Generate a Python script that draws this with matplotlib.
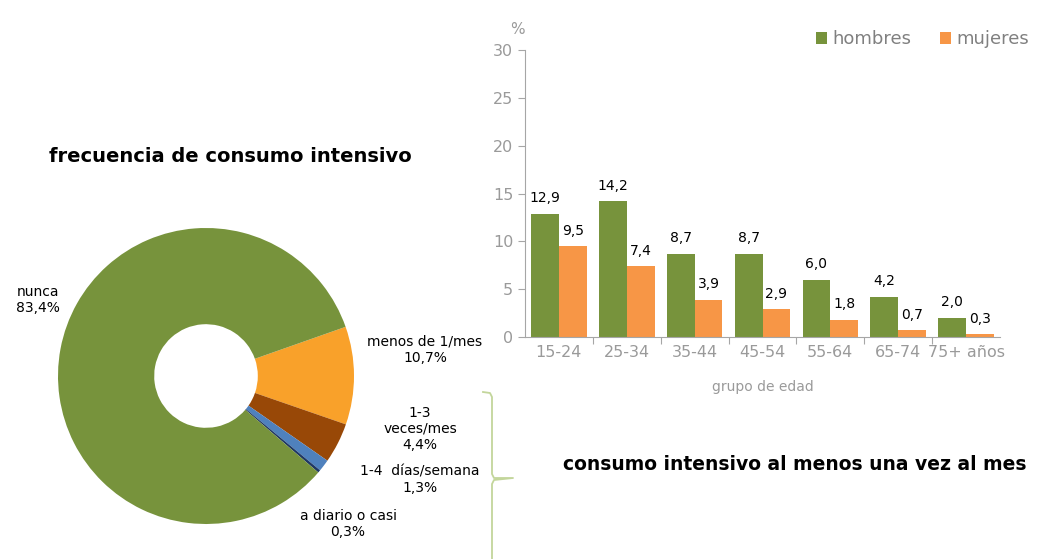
import matplotlib.pyplot as plt
import numpy as np

# datos del grafico circular
frec_etiquetas = ["menos de 1/mes", "1-3\nveces/mes", "1-4  días/semana", "a diario o casi", "nunca"]
frec_valores = [10.7, 4.4, 1.3, 0.3, 83.4]
frec_colores = ["#F9A12A", "#984807", "#4F81BD", "#1F3864", "#77933C"]

# datos del grafico de barras
grupos = ["15-24", "25-34", "35-44", "45-54", "55-64", "65-74", "75+ años"]
hombres = [12.9, 14.2, 8.7, 8.7, 6.0, 4.2, 2.0]
mujeres = [9.5, 7.4, 3.9, 2.9, 1.8, 0.7, 0.3]

verde = "#77933C"
naranja = "#F79646"
gris = "#9A9A9A"

plt.rcParams['font.family'] = ['DejaVu Sans']

fig = plt.figure(figsize=(10.61, 5.59), dpi=100)

# --- donut ---
axp = fig.add_axes([(206 - 148)/1061, 1 - (376 + 148)/559, 296/1061, 296/559])
axp.pie(frec_valores, colors=frec_colores, startangle=19.4, counterclock=False,
        wedgeprops=dict(width=0.65, edgecolor="none"))
axp.set_xlim(-1, 1)
axp.set_ylim(-1, 1)
axp.set_aspect("equal")

def pct(v):
    return f"{v:.1f}%".replace(".", ",")

fs = 10
fig.text(38/1061, 1 - 300/559, "nunca\n" + pct(83.4), ha="center", va="center", fontsize=fs)
fig.text(425/1061, 1 - 350/559, "menos de 1/mes\n" + pct(10.7), ha="center", va="center", fontsize=fs)
fig.text(420/1061, 1 - 429/559, "1-3\nveces/mes\n" + pct(4.4), ha="center", va="center", fontsize=fs)
fig.text(420/1061, 1 - 480/559, "1-4  días/semana\n" + pct(1.3), ha="center", va="center", fontsize=fs)
fig.text(348/1061, 1 - 524/559, "a diario o casi\n" + pct(0.3), ha="center", va="center", fontsize=fs)

fig.text(230/1061, 1 - 157/559, "frecuencia de consumo intensivo", ha="center", va="center",
         fontsize=14, fontweight="bold")

# llave
llave_x = np.array([483, 490, 492, 492, 494, 513, 494, 492, 492]) / 1061
llave_y = 1 - np.array([392, 393, 397, 474, 478, 478, 480, 484, 559]) / 559
fig.add_artist(plt.Line2D(llave_x, llave_y, color="#C3D69B", lw=1.3))

# --- barras ---
axb = fig.add_axes([525/1061, 1 - 337/559, 475/1061, 287/559])
x = np.arange(len(grupos))
w = 0.41
b1 = axb.bar(x - w/2, hombres, w, color=verde, label="hombres")
b2 = axb.bar(x + w/2, mujeres, w, color=naranja, label="mujeres")
for rect, v in zip(list(b1) + list(b2), hombres + mujeres):
    axb.text(rect.get_x() + rect.get_width()/2, v + 0.9, f"{v:.1f}".replace(".", ","),
             ha="center", va="bottom", fontsize=10)

axb.set_xlim(-0.5, len(grupos) - 0.5)
axb.set_ylim(0, 30)
axb.set_yticks(range(0, 31, 5))
axb.set_xticks(np.arange(0.5, len(grupos) - 0.5, 1))
axb.set_xticklabels([])
axb.set_xticks(x, minor=True)
axb.set_xticklabels(grupos, minor=True)
axb.tick_params(axis="x", which="minor", length=0, pad=6, labelsize=11.5, labelcolor=gris)
axb.tick_params(axis="x", which="major", length=5, color="#A6A6A6")
axb.tick_params(axis="y", length=5, color="#A6A6A6", labelsize=11.5, labelcolor=gris)
for s in ["top", "right"]:
    axb.spines[s].set_visible(False)
axb.spines["left"].set_color("#A6A6A6")
axb.spines["bottom"].set_color("#A6A6A6")
axb.set_xlabel("grupo de edad", color=gris, fontsize=10, labelpad=14)
axb.text(-0.015, 1.045, "%", transform=axb.transAxes, ha="center", va="bottom", color=gris, fontsize=11)

leg = axb.legend(loc="upper right", bbox_to_anchor=(1.095, 1.125), ncol=2, frameon=False,
                 fontsize=13, handlelength=0.6, handleheight=0.6, handletextpad=0.3,
                 columnspacing=1.6)
for t in leg.get_texts():
    t.set_color("#808080")

fig.text(795/1061, 1 - 465/559, "consumo intensivo al menos una vez al mes", ha="center", va="center",
         fontsize=13.5, fontweight="bold")

fig.savefig("out.png", dpi=100)
